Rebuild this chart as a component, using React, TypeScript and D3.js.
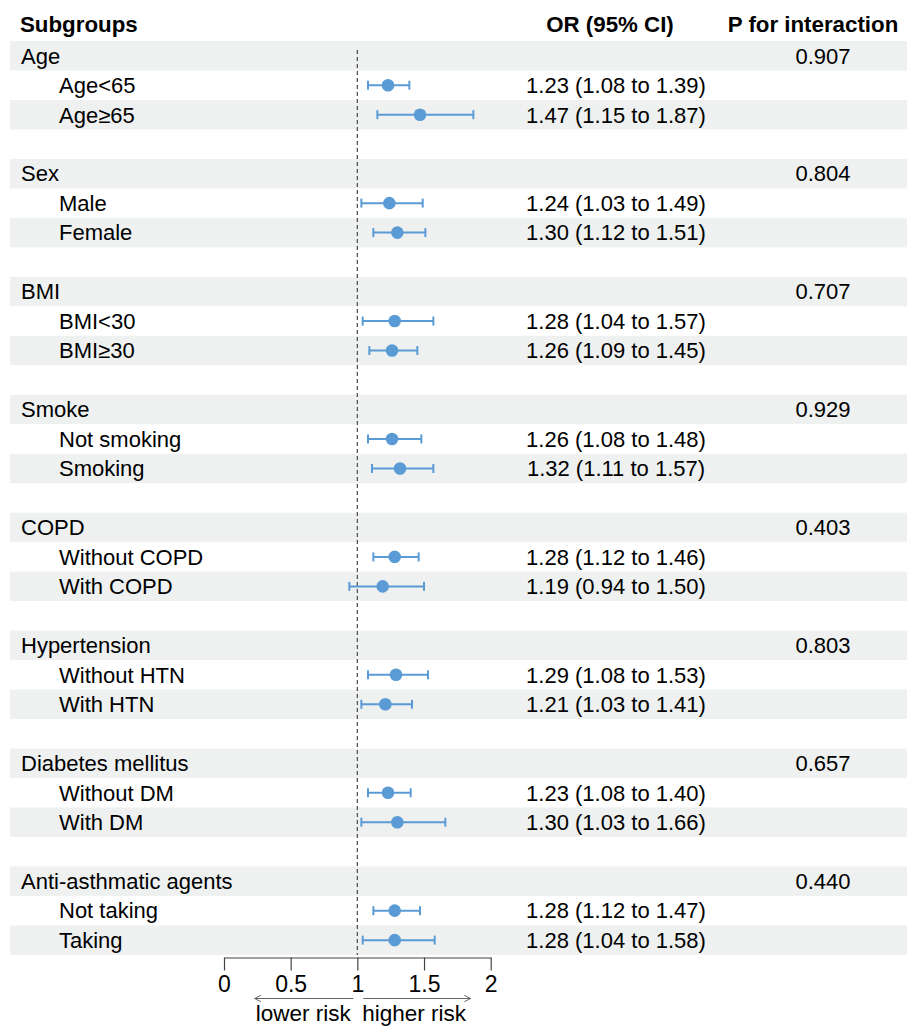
import React, { useEffect, useRef } from 'react';
import * as d3 from 'd3';

const groups = ['Age', 'Sex', 'BMI', 'Smoke', 'COPD', 'Hypertension', 'Diabetes mellitus', 'Anti-asthmatic agents'];
const pInteraction = ['0.907', '0.804', '0.707', '0.929', '0.403', '0.803', '0.657', '0.440'];
const subgroups = [
  ['Age<65', 'Age≥65'],
  ['Male', 'Female'],
  ['BMI<30', 'BMI≥30'],
  ['Not smoking', 'Smoking'],
  ['Without COPD', 'With COPD'],
  ['Without HTN', 'With HTN'],
  ['Without DM', 'With DM'],
  ['Not taking', 'Taking'],
];
const orValues = [1.23, 1.47, 1.24, 1.30, 1.28, 1.26, 1.26, 1.32, 1.28, 1.19, 1.29, 1.21, 1.23, 1.30, 1.28, 1.28];
const lowerCI = [1.08, 1.15, 1.03, 1.12, 1.04, 1.09, 1.08, 1.11, 1.12, 0.94, 1.08, 1.03, 1.08, 1.03, 1.12, 1.04];
const upperCI = [1.39, 1.87, 1.49, 1.51, 1.57, 1.45, 1.48, 1.57, 1.46, 1.50, 1.53, 1.41, 1.40, 1.66, 1.47, 1.58];
const xTicks = [0, 0.5, 1, 1.5, 2];

type Row = { label: string; indent: boolean; or?: number; lo?: number; hi?: number; p?: string };

export default function App() {
  const ref = useRef<SVGSVGElement | null>(null);

  useEffect(() => {
    if (!ref.current) return;
    const width = 907;
    const height = 1028;
    const svg = d3.select(ref.current);
    svg.selectAll('*').remove();
    svg.attr('width', width).attr('height', height).attr('viewBox', `0 0 ${width} ${height}`);

    // build row list: group header, two subgroups, blank spacer
    const rows: (Row | null)[] = [];
    let k = 0;
    groups.forEach((g, gi) => {
      rows.push({ label: g, indent: false, p: pInteraction[gi] });
      subgroups[gi].forEach(s => {
        rows.push({ label: s, indent: true, or: orValues[k], lo: lowerCI[k], hi: upperCI[k] });
        k++;
      });
      if (gi < groups.length - 1) rows.push(null);
    });

    const top = 41;
    const rowH = 29.48;
    const y = (i: number) => top + i * rowH;
    const x = d3.scaleLinear().domain([0, 2]).range([224, 490.7]);
    const font = "'Liberation Sans', Arial, Helvetica, sans-serif";
    const blue = '#5b9bd5';

    // striped row backgrounds
    svg.append('g')
      .selectAll('rect')
      .data(rows.map((r, i) => i).filter(i => i % 2 === 0))
      .join('rect')
      .attr('x', 10)
      .attr('y', d => y(d))
      .attr('width', width - 10)
      .attr('height', rowH)
      .attr('fill', '#eef1f0');

    // headers
    const hdr = svg.append('g').attr('font-family', font).attr('font-weight', 'bold').attr('font-size', 22.3).attr('fill', '#000');
    hdr.append('text').attr('x', 20).attr('y', 31.5).text('Subgroups');
    hdr.append('text').attr('x', 610).attr('y', 31.5).attr('text-anchor', 'middle').text('OR (95% CI)');
    hdr.append('text').attr('x', 813).attr('y', 31.5).attr('text-anchor', 'middle').text('P for interaction');

    // reference line at OR = 1
    svg.append('line')
      .attr('x1', x(1)).attr('x2', x(1))
      .attr('y1', 50).attr('y2', y(rows.length))
      .attr('stroke', '#555')
      .attr('stroke-width', 1.3)
      .attr('stroke-dasharray', '4,3');

    const body = svg.append('g').attr('font-family', font).attr('font-size', 22).attr('fill', '#000');
    const fmt = d3.format('.2f');

    rows.forEach((r, i) => {
      if (!r) return;
      const cy = y(i) + rowH / 2;
      body.append('text')
        .attr('x', r.indent ? 59 : 21)
        .attr('y', cy + 7.8)
        .text(r.label);
      if (r.p) {
        body.append('text').attr('x', 823).attr('y', cy + 7.8).attr('text-anchor', 'middle').text(r.p);
      }
      if (r.or !== undefined) {
        body.append('text')
          .attr('x', 616)
          .attr('y', cy + 7.8)
          .attr('text-anchor', 'middle')
          .text(`${fmt(r.or)} (${fmt(r.lo!)} to ${fmt(r.hi!)})`);
        const g = svg.append('g').attr('stroke', blue).attr('stroke-width', 2);
        g.append('line').attr('x1', x(r.lo!)).attr('x2', x(r.hi!)).attr('y1', cy).attr('y2', cy);
        g.append('line').attr('x1', x(r.lo!)).attr('x2', x(r.lo!)).attr('y1', cy - 4.5).attr('y2', cy + 4.5);
        g.append('line').attr('x1', x(r.hi!)).attr('x2', x(r.hi!)).attr('y1', cy - 4.5).attr('y2', cy + 4.5);
        svg.append('circle').attr('cx', x(r.or)).attr('cy', cy).attr('r', 6.3).attr('fill', blue);
      }
    });

    // x axis
    const axisY = 957.5;
    const axis = svg.append('g')
      .attr('transform', `translate(0,${axisY})`)
      .call(d3.axisBottom(x).tickValues(xTicks).tickSize(13).tickSizeOuter(0).tickFormat(d => String(d)));
    axis.select('.domain').attr('stroke', '#444').attr('stroke-width', 1.2);
    axis.selectAll('.tick line').attr('stroke', '#444').attr('stroke-width', 1.2);
    axis.selectAll('.tick text')
      .attr('font-family', font)
      .attr('font-size', 23)
      .attr('fill', '#000')
      .attr('dy', 0)
      .attr('y', 34.5);

    // direction arrows
    svg.append('defs').append('marker')
      .attr('id', 'arr')
      .attr('viewBox', '0 0 10 10')
      .attr('refX', 9).attr('refY', 5)
      .attr('markerWidth', 8).attr('markerHeight', 8)
      .attr('orient', 'auto-start-reverse')
      .append('path')
      .attr('d', 'M1,1 L9,5 L1,9')
      .attr('fill', 'none')
      .attr('stroke', '#666')
      .attr('stroke-width', 1.2);
    const arrowY = 998.5;
    svg.append('line')
      .attr('x1', x(0.23)).attr('x2', x(0.97))
      .attr('y1', arrowY).attr('y2', arrowY)
      .attr('stroke', '#666').attr('stroke-width', 1)
      .attr('marker-start', 'url(#arr)');
    svg.append('line')
      .attr('x1', x(1.045)).attr('x2', x(1.85))
      .attr('y1', arrowY).attr('y2', arrowY)
      .attr('stroke', '#666').attr('stroke-width', 1)
      .attr('marker-end', 'url(#arr)');

    const lbl = svg.append('g').attr('font-family', font).attr('font-size', 22.5).attr('fill', '#000');
    lbl.append('text').attr('x', x(0.595)).attr('y', 1020.5).attr('text-anchor', 'middle').text('lower risk');
    lbl.append('text').attr('x', x(1.425)).attr('y', 1020.5).attr('text-anchor', 'middle').text('higher risk');
  }, []);

  return (
    <div style={{ position: 'absolute', left: 0, top: 0 }}>
      <svg ref={ref} style={{ display: 'block', background: '#fff' }}></svg>
    </div>
  );
}
